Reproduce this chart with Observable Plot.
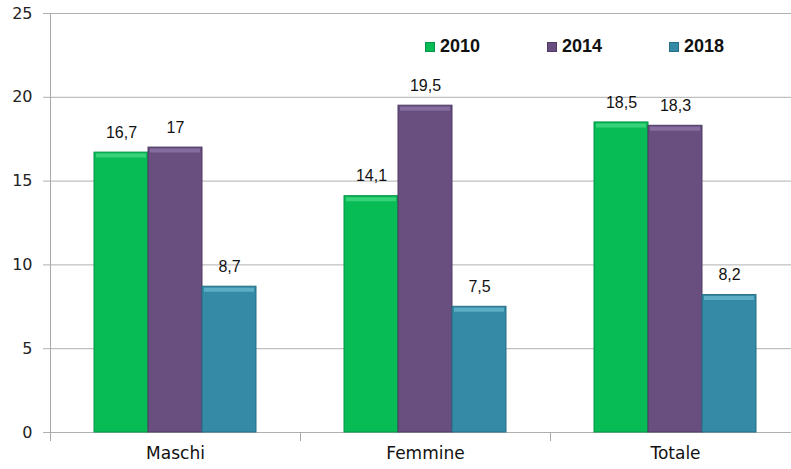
<!DOCTYPE html>
<html>
<head>
<meta charset="utf-8">
<script src="https://cdn.jsdelivr.net/npm/d3@7"></script>
<script src="https://cdn.jsdelivr.net/npm/@observablehq/plot@0.6"></script>
<style>
  html, body { margin: 0; padding: 0; background: #fff; }
  #wrap { position: relative; width: 791px; height: 469px; overflow: hidden; }
  #legend { position: absolute; top: 36px; left: 425px; display: flex; font-family: "Liberation Sans", Arial, sans-serif; font-weight: bold; font-size: 18px; color: #111; }
  #legend .item { display: flex; align-items: center; width: 122px; }
  #legend .sw { width: 10px; height: 10px; margin-right: 5px; box-sizing: border-box; }
</style>
</head>
<body>
<div id="wrap"><div id="legend"></div></div>
<script>
const categories = ["Maschi", "Femmine", "Totale"];
const years = ["2010", "2014", "2018"];
const values2010 = [16.7, 14.1, 18.5];
const values2014 = [17, 19.5, 18.3];
const values2018 = [8.7, 7.5, 8.2];
const yTicks = [0, 5, 10, 15, 20, 25];
const colors = ["#07bb55", "#684f80", "#358aa5"];
const edgeColors = ["#05934a", "#4f3b63", "#266f86"];
const bevelColors = ["#45d884", "#8d74a8", "#67b6cf"];

const series = [values2010, values2014, values2018];
const data = [];
categories.forEach((c, i) => {
  years.forEach((y, j) => data.push({category: c, year: y, value: series[j][i]}));
});

const fmt = v => String(v).replace(".", ",");

const chart = Plot.plot({
  width: 791,
  height: 469,
  marginTop: 13,
  marginBottom: 37,
  marginLeft: 50,
  marginRight: -9,
  style: {background: "transparent"},
  fx: {domain: categories, padding: 0, axis: null, label: null},
  x: {domain: years, paddingInner: 0, paddingOuter: 0.773, axis: null},
  y: {domain: [0, 25], axis: null},
  marks: [
    Plot.ruleY(yTicks, {stroke: "#b0b0b0", strokeWidth: 1}),
    Plot.barY(data, {
      fx: "category", x: "year", y: "value",
      fill: d => colors[years.indexOf(d.year)],
      stroke: d => edgeColors[years.indexOf(d.year)],
      strokeWidth: 1
    }),
    Plot.tickY(data, {
      fx: "category", x: "year", y: "value",
      stroke: d => bevelColors[years.indexOf(d.year)],
      strokeWidth: 4, dy: 3, insetLeft: 2, insetRight: 2, strokeOpacity: 0.8
    }),
    Plot.text(data, {
      fx: "category", x: "year", y: "value",
      text: d => fmt(d.value), dy: -20,
      fontSize: 16, fill: "#111",
      fontFamily: "Liberation Sans, Arial, sans-serif"
    }),
    Plot.axisY({
      ticks: yTicks, tickSize: 7, tickPadding: 11, stroke: "#b0b0b0",
      fontSize: 16, fill: "#222", label: null,
      fontFamily: "DejaVu Sans, sans-serif"
    }),
    Plot.frame({anchor: "left", fx: () => categories[0], insetBottom: -6, stroke: "#a8a8a8"}),
    Plot.frame({anchor: "left", insetTop: 419, insetBottom: -8, stroke: "#a8a8a8"}),
    Plot.axisFx({
      anchor: "bottom", tickSize: 0, tickPadding: 14, label: null, fontSize: 17, fill: "#111",
      fontFamily: "DejaVu Sans, sans-serif"
    })
  ]
});
const wrap = document.getElementById("wrap");
wrap.insertBefore(chart, wrap.firstChild);

const legend = document.getElementById("legend");
years.forEach((y, j) => {
  const item = document.createElement("div");
  item.className = "item";
  const sw = document.createElement("div");
  sw.className = "sw";
  sw.style.background = colors[j];
  sw.style.border = "1px solid " + edgeColors[j];
  const t = document.createElement("span");
  t.textContent = y;
  item.appendChild(sw);
  item.appendChild(t);
  legend.appendChild(item);
});
</script>
</body>
</html>
